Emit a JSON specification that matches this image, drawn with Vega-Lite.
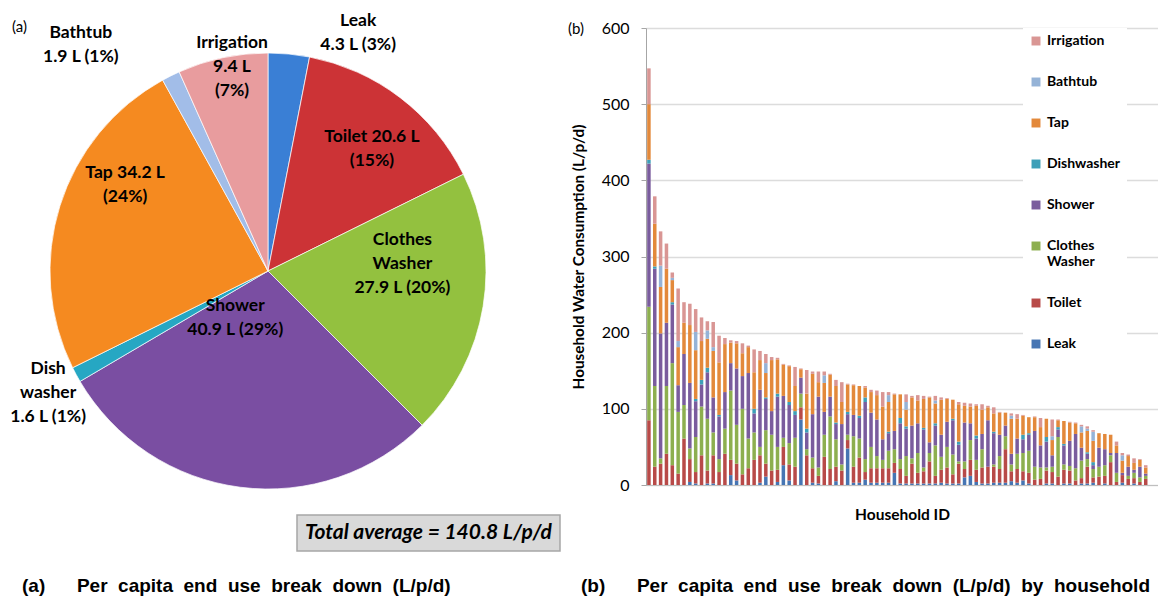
{
  "$schema": "https://vega.github.io/schema/vega-lite/v6.json",
  "padding": {"left": 0, "top": 12, "right": 0, "bottom": 0},
  "spacing": 7,
  "config": {
    "font": "Lato",
    "view": {"stroke": null},
    "title": {"color": "#000000"}
  },
  "resolve": {"scale": {"color": "independent"}, "legend": {"color": "independent"}},
  "datasets": {
    "enduse": [
      {"category": "Leak", "value": 4.3, "label": "Leak\n4.3 L (3%)"},
      {"category": "Toilet", "value": 20.6, "label": "Toilet 20.6 L\n(15%)"},
      {"category": "Clothes Washer", "value": 27.9, "label": "Clothes\nWasher\n27.9 L (20%)"},
      {"category": "Shower", "value": 40.9, "label": "Shower\n40.9 L (29%)"},
      {"category": "Dishwasher", "value": 1.6, "label": "Dish\nwasher\n1.6 L (1%)"},
      {"category": "Tap", "value": 34.2, "label": "Tap 34.2 L\n(24%)"},
      {"category": "Bathtub", "value": 1.9, "label": "Bathtub\n1.9 L (1%)"},
      {"category": "Irrigation", "value": 9.4, "label": "Irrigation\n9.4 L\n(7%)"}
    ],
    "households": [
      {"id": 1, "Leak": 0, "Toilet": 85, "Clothes Washer": 149, "Shower": 188, "Dishwasher": 5, "Tap": 73, "Bathtub": 0, "Irrigation": 47},
      {"id": 2, "Leak": 0, "Toilet": 24, "Clothes Washer": 106, "Shower": 154, "Dishwasher": 3, "Tap": 56, "Bathtub": 0, "Irrigation": 36},
      {"id": 3, "Leak": 0, "Toilet": 28, "Clothes Washer": 7, "Shower": 164, "Dishwasher": 0, "Tap": 61, "Bathtub": 28, "Irrigation": 45},
      {"id": 4, "Leak": 0, "Toilet": 41, "Clothes Washer": 89, "Shower": 83, "Dishwasher": 0, "Tap": 71, "Bathtub": 0, "Irrigation": 33},
      {"id": 5, "Leak": 0, "Toilet": 26, "Clothes Washer": 134, "Shower": 77, "Dishwasher": 3, "Tap": 29, "Bathtub": 3, "Irrigation": 7},
      {"id": 6, "Leak": 0, "Toilet": 15, "Clothes Washer": 81, "Shower": 35, "Dishwasher": 0, "Tap": 50, "Bathtub": 8, "Irrigation": 69},
      {"id": 7, "Leak": 0, "Toilet": 61, "Clothes Washer": 44, "Shower": 67, "Dishwasher": 0, "Tap": 41, "Bathtub": 0, "Irrigation": 27},
      {"id": 8, "Leak": 4, "Toilet": 30, "Clothes Washer": 14, "Shower": 86, "Dishwasher": 0, "Tap": 76, "Bathtub": 0, "Irrigation": 28},
      {"id": 9, "Leak": 2, "Toilet": 15, "Clothes Washer": 46, "Shower": 47, "Dishwasher": 3, "Tap": 64, "Bathtub": 24, "Irrigation": 30},
      {"id": 10, "Leak": 0, "Toilet": 39, "Clothes Washer": 64, "Shower": 29, "Dishwasher": 6, "Tap": 51, "Bathtub": 0, "Irrigation": 31},
      {"id": 11, "Leak": 2, "Toilet": 17, "Clothes Washer": 68, "Shower": 61, "Dishwasher": 6, "Tap": 38, "Bathtub": 11, "Irrigation": 12},
      {"id": 12, "Leak": 2, "Toilet": 37, "Clothes Washer": 30, "Shower": 46, "Dishwasher": 0, "Tap": 61, "Bathtub": 5, "Irrigation": 33},
      {"id": 13, "Leak": 0, "Toilet": 17, "Clothes Washer": 17, "Shower": 56, "Dishwasher": 2, "Tap": 69, "Bathtub": 0, "Irrigation": 35},
      {"id": 14, "Leak": 0, "Toilet": 41, "Clothes Washer": 33, "Shower": 48, "Dishwasher": 0, "Tap": 63, "Bathtub": 0, "Irrigation": 8},
      {"id": 15, "Leak": 13, "Toilet": 20, "Clothes Washer": 91, "Shower": 36, "Dishwasher": 0, "Tap": 27, "Bathtub": 0, "Irrigation": 3},
      {"id": 16, "Leak": 6, "Toilet": 22, "Clothes Washer": 51, "Shower": 74, "Dishwasher": 0, "Tap": 33, "Bathtub": 0, "Irrigation": 3},
      {"id": 17, "Leak": 0, "Toilet": 14, "Clothes Washer": 86, "Shower": 43, "Dishwasher": 0, "Tap": 30, "Bathtub": 0, "Irrigation": 13},
      {"id": 18, "Leak": 0, "Toilet": 22, "Clothes Washer": 39, "Shower": 86, "Dishwasher": 0, "Tap": 34, "Bathtub": 0, "Irrigation": 2},
      {"id": 19, "Leak": 0, "Toilet": 33, "Clothes Washer": 36, "Shower": 25, "Dishwasher": 6, "Tap": 48, "Bathtub": 0, "Irrigation": 30},
      {"id": 20, "Leak": 3, "Toilet": 36, "Clothes Washer": 11, "Shower": 75, "Dishwasher": 0, "Tap": 39, "Bathtub": 0, "Irrigation": 12},
      {"id": 21, "Leak": 11, "Toilet": 17, "Clothes Washer": 44, "Shower": 41, "Dishwasher": 2, "Tap": 32, "Bathtub": 13, "Irrigation": 12},
      {"id": 22, "Leak": 0, "Toilet": 19, "Clothes Washer": 47, "Shower": 31, "Dishwasher": 0, "Tap": 67, "Bathtub": 0, "Irrigation": 4},
      {"id": 23, "Leak": 4, "Toilet": 16, "Clothes Washer": 30, "Shower": 66, "Dishwasher": 4, "Tap": 45, "Bathtub": 0, "Irrigation": 2},
      {"id": 24, "Leak": 26, "Toilet": 24, "Clothes Washer": 12, "Shower": 55, "Dishwasher": 0, "Tap": 41, "Bathtub": 0, "Irrigation": 1},
      {"id": 25, "Leak": 6, "Toilet": 21, "Clothes Washer": 28, "Shower": 50, "Dishwasher": 4, "Tap": 47, "Bathtub": 0, "Irrigation": 1},
      {"id": 26, "Leak": 0, "Toilet": 24, "Clothes Washer": 38, "Shower": 30, "Dishwasher": 5, "Tap": 33, "Bathtub": 0, "Irrigation": 25},
      {"id": 27, "Leak": 86, "Toilet": 16, "Clothes Washer": 18, "Shower": 21, "Dishwasher": 0, "Tap": 11, "Bathtub": 0, "Irrigation": 1},
      {"id": 28, "Leak": 0, "Toilet": 39, "Clothes Washer": 8, "Shower": 22, "Dishwasher": 5, "Tap": 46, "Bathtub": 0, "Irrigation": 31},
      {"id": 29, "Leak": 3, "Toilet": 19, "Clothes Washer": 14, "Shower": 57, "Dishwasher": 0, "Tap": 53, "Bathtub": 0, "Irrigation": 3},
      {"id": 30, "Leak": 2, "Toilet": 10, "Clothes Washer": 11, "Shower": 93, "Dishwasher": 0, "Tap": 19, "Bathtub": 0, "Irrigation": 14},
      {"id": 31, "Leak": 0, "Toilet": 37, "Clothes Washer": 29, "Shower": 30, "Dishwasher": 0, "Tap": 38, "Bathtub": 10, "Irrigation": 5},
      {"id": 32, "Leak": 0, "Toilet": 21, "Clothes Washer": 69, "Shower": 26, "Dishwasher": 0, "Tap": 29, "Bathtub": 0, "Irrigation": 1},
      {"id": 33, "Leak": 5, "Toilet": 19, "Clothes Washer": 36, "Shower": 20, "Dishwasher": 2, "Tap": 48, "Bathtub": 0, "Irrigation": 8},
      {"id": 34, "Leak": 0, "Toilet": 19, "Clothes Washer": 8, "Shower": 53, "Dishwasher": 0, "Tap": 29, "Bathtub": 0, "Irrigation": 26},
      {"id": 35, "Leak": 48, "Toilet": 11, "Clothes Washer": 7, "Shower": 27, "Dishwasher": 3, "Tap": 36, "Bathtub": 0, "Irrigation": 1},
      {"id": 36, "Leak": 3, "Toilet": 21, "Clothes Washer": 40, "Shower": 28, "Dishwasher": 0, "Tap": 39, "Bathtub": 0, "Irrigation": 1},
      {"id": 37, "Leak": 3, "Toilet": 33, "Clothes Washer": 25, "Shower": 27, "Dishwasher": 3, "Tap": 39, "Bathtub": 0, "Irrigation": 0},
      {"id": 38, "Leak": 7, "Toilet": 10, "Clothes Washer": 17, "Shower": 75, "Dishwasher": 6, "Tap": 13, "Bathtub": 0, "Irrigation": 2},
      {"id": 39, "Leak": 3, "Toilet": 19, "Clothes Washer": 28, "Shower": 45, "Dishwasher": 0, "Tap": 27, "Bathtub": 0, "Irrigation": 3},
      {"id": 40, "Leak": 3, "Toilet": 19, "Clothes Washer": 16, "Shower": 48, "Dishwasher": 0, "Tap": 32, "Bathtub": 0, "Irrigation": 6},
      {"id": 41, "Leak": 3, "Toilet": 19, "Clothes Washer": 11, "Shower": 27, "Dishwasher": 0, "Tap": 43, "Bathtub": 0, "Irrigation": 19},
      {"id": 42, "Leak": 3, "Toilet": 19, "Clothes Washer": 23, "Shower": 23, "Dishwasher": 2, "Tap": 39, "Bathtub": 9, "Irrigation": 4},
      {"id": 43, "Leak": 16, "Toilet": 13, "Clothes Washer": 18, "Shower": 24, "Dishwasher": 0, "Tap": 48, "Bathtub": 0, "Irrigation": 1},
      {"id": 44, "Leak": 2, "Toilet": 19, "Clothes Washer": 13, "Shower": 47, "Dishwasher": 7, "Tap": 31, "Bathtub": 0, "Irrigation": 0},
      {"id": 45, "Leak": 2, "Toilet": 10, "Clothes Washer": 26, "Shower": 36, "Dishwasher": 3, "Tap": 22, "Bathtub": 10, "Irrigation": 10},
      {"id": 46, "Leak": 2, "Toilet": 26, "Clothes Washer": 7, "Shower": 43, "Dishwasher": 0, "Tap": 37, "Bathtub": 0, "Irrigation": 2},
      {"id": 47, "Leak": 2, "Toilet": 14, "Clothes Washer": 26, "Shower": 39, "Dishwasher": 0, "Tap": 30, "Bathtub": 0, "Irrigation": 7},
      {"id": 48, "Leak": 2, "Toilet": 16, "Clothes Washer": 5, "Shower": 50, "Dishwasher": 2, "Tap": 38, "Bathtub": 0, "Irrigation": 4},
      {"id": 49, "Leak": 2, "Toilet": 29, "Clothes Washer": 11, "Shower": 14, "Dishwasher": 0, "Tap": 59, "Bathtub": 0, "Irrigation": 1},
      {"id": 50, "Leak": 2, "Toilet": 10, "Clothes Washer": 40, "Shower": 26, "Dishwasher": 3, "Tap": 26, "Bathtub": 4, "Irrigation": 6},
      {"id": 51, "Leak": 3, "Toilet": 17, "Clothes Washer": 17, "Shower": 29, "Dishwasher": 0, "Tap": 46, "Bathtub": 0, "Irrigation": 3},
      {"id": 52, "Leak": 2, "Toilet": 21, "Clothes Washer": 27, "Shower": 33, "Dishwasher": 0, "Tap": 30, "Bathtub": 0, "Irrigation": 1},
      {"id": 53, "Leak": 2, "Toilet": 12, "Clothes Washer": 26, "Shower": 45, "Dishwasher": 2, "Tap": 25, "Bathtub": 0, "Irrigation": 0},
      {"id": 54, "Leak": 2, "Toilet": 26, "Clothes Washer": 3, "Shower": 22, "Dishwasher": 4, "Tap": 49, "Bathtub": 0, "Irrigation": 3},
      {"id": 55, "Leak": 10, "Toilet": 11, "Clothes Washer": 10, "Shower": 51, "Dishwasher": 0, "Tap": 22, "Bathtub": 0, "Irrigation": 4},
      {"id": 56, "Leak": 12, "Toilet": 21, "Clothes Washer": 26, "Shower": 22, "Dishwasher": 0, "Tap": 22, "Bathtub": 0, "Irrigation": 4},
      {"id": 57, "Leak": 4, "Toilet": 16, "Clothes Washer": 13, "Shower": 28, "Dishwasher": 4, "Tap": 39, "Bathtub": 0, "Irrigation": 2},
      {"id": 58, "Leak": 2, "Toilet": 21, "Clothes Washer": 24, "Shower": 20, "Dishwasher": 0, "Tap": 32, "Bathtub": 0, "Irrigation": 7},
      {"id": 59, "Leak": 2, "Toilet": 22, "Clothes Washer": 0, "Shower": 61, "Dishwasher": 0, "Tap": 17, "Bathtub": 0, "Irrigation": 2},
      {"id": 60, "Leak": 3, "Toilet": 21, "Clothes Washer": 3, "Shower": 41, "Dishwasher": 2, "Tap": 24, "Bathtub": 0, "Irrigation": 8},
      {"id": 61, "Leak": 3, "Toilet": 18, "Clothes Washer": 17, "Shower": 28, "Dishwasher": 0, "Tap": 29, "Bathtub": 0, "Irrigation": 1},
      {"id": 62, "Leak": 3, "Toilet": 44, "Clothes Washer": 17, "Shower": 14, "Dishwasher": 0, "Tap": 17, "Bathtub": 0, "Irrigation": 0},
      {"id": 63, "Leak": 5, "Toilet": 13, "Clothes Washer": 9, "Shower": 14, "Dishwasher": 0, "Tap": 46, "Bathtub": 4, "Irrigation": 3},
      {"id": 64, "Leak": 3, "Toilet": 18, "Clothes Washer": 20, "Shower": 20, "Dishwasher": 0, "Tap": 26, "Bathtub": 0, "Irrigation": 6},
      {"id": 65, "Leak": 6, "Toilet": 12, "Clothes Washer": 24, "Shower": 18, "Dishwasher": 6, "Tap": 25, "Bathtub": 0, "Irrigation": 1},
      {"id": 66, "Leak": 2, "Toilet": 14, "Clothes Washer": 29, "Shower": 21, "Dishwasher": 2, "Tap": 21, "Bathtub": 0, "Irrigation": 0},
      {"id": 67, "Leak": 0, "Toilet": 7, "Clothes Washer": 17, "Shower": 47, "Dishwasher": 0, "Tap": 18, "Bathtub": 0, "Irrigation": 1},
      {"id": 68, "Leak": 0, "Toilet": 8, "Clothes Washer": 15, "Shower": 29, "Dishwasher": 0, "Tap": 24, "Bathtub": 0, "Irrigation": 12},
      {"id": 69, "Leak": 2, "Toilet": 17, "Clothes Washer": 4, "Shower": 34, "Dishwasher": 6, "Tap": 24, "Bathtub": 0, "Irrigation": 0},
      {"id": 70, "Leak": 2, "Toilet": 15, "Clothes Washer": 7, "Shower": 15, "Dishwasher": 0, "Tap": 20, "Bathtub": 5, "Irrigation": 22},
      {"id": 71, "Leak": 0, "Toilet": 11, "Clothes Washer": 52, "Shower": 10, "Dishwasher": 3, "Tap": 9, "Bathtub": 0, "Irrigation": 1},
      {"id": 72, "Leak": 2, "Toilet": 18, "Clothes Washer": 7, "Shower": 25, "Dishwasher": 2, "Tap": 30, "Bathtub": 0, "Irrigation": 0},
      {"id": 73, "Leak": 2, "Toilet": 17, "Clothes Washer": 6, "Shower": 33, "Dishwasher": 0, "Tap": 24, "Bathtub": 0, "Irrigation": 1},
      {"id": 74, "Leak": 0, "Toilet": 6, "Clothes Washer": 16, "Shower": 45, "Dishwasher": 0, "Tap": 14, "Bathtub": 0, "Irrigation": 1},
      {"id": 75, "Leak": 2, "Toilet": 7, "Clothes Washer": 23, "Shower": 17, "Dishwasher": 0, "Tap": 20, "Bathtub": 8, "Irrigation": 2},
      {"id": 76, "Leak": 2, "Toilet": 22, "Clothes Washer": 10, "Shower": 7, "Dishwasher": 2, "Tap": 28, "Bathtub": 3, "Irrigation": 3},
      {"id": 77, "Leak": 3, "Toilet": 7, "Clothes Washer": 11, "Shower": 5, "Dishwasher": 4, "Tap": 28, "Bathtub": 12, "Irrigation": 2},
      {"id": 78, "Leak": 0, "Toilet": 11, "Clothes Washer": 13, "Shower": 25, "Dishwasher": 0, "Tap": 19, "Bathtub": 0, "Irrigation": 0},
      {"id": 79, "Leak": 2, "Toilet": 10, "Clothes Washer": 14, "Shower": 21, "Dishwasher": 0, "Tap": 20, "Bathtub": 0, "Irrigation": 0},
      {"id": 80, "Leak": 0, "Toilet": 30, "Clothes Washer": 9, "Shower": 3, "Dishwasher": 0, "Tap": 24, "Bathtub": 0, "Irrigation": 0},
      {"id": 81, "Leak": 0, "Toilet": 4, "Clothes Washer": 12, "Shower": 26, "Dishwasher": 0, "Tap": 10, "Bathtub": 0, "Irrigation": 5},
      {"id": 82, "Leak": 3, "Toilet": 10, "Clothes Washer": 0, "Shower": 3, "Dishwasher": 0, "Tap": 16, "Bathtub": 7, "Irrigation": 3},
      {"id": 83, "Leak": 0, "Toilet": 8, "Clothes Washer": 4, "Shower": 12, "Dishwasher": 0, "Tap": 14, "Bathtub": 0, "Irrigation": 2},
      {"id": 84, "Leak": 2, "Toilet": 7, "Clothes Washer": 7, "Shower": 4, "Dishwasher": 0, "Tap": 9, "Bathtub": 0, "Irrigation": 6},
      {"id": 85, "Leak": 0, "Toilet": 4, "Clothes Washer": 6, "Shower": 14, "Dishwasher": 0, "Tap": 9, "Bathtub": 0, "Irrigation": 1},
      {"id": 86, "Leak": 0, "Toilet": 8, "Clothes Washer": 4, "Shower": 3, "Dishwasher": 0, "Tap": 8, "Bathtub": 0, "Irrigation": 3}
    ]
  },
  "hconcat": [
    {
      "vconcat": [
        {
          "width": 536,
          "height": 486,
          "data": {"name": "enduse"},
          "title": {"text": "(a)", "anchor": "start", "frame": "group", "dx": 12, "offset": -23, "font": "Lato", "fontSize": 15, "fontWeight": "normal"},
          "transform": [
            {"window": [{"op": "row_number", "as": "ord"}]},
            {"stack": "value", "groupby": [], "sort": [{"field": "ord", "order": "ascending"}], "as": ["v0", "v1"]}
          ],
          "layer": [
            {
              "mark": {"type": "arc", "outerRadius": 218, "stroke": "#ffffff", "strokeWidth": 1, "strokeOpacity": 0.7},
              "encoding": {
                "theta": {"field": "v0", "type": "quantitative", "stack": null},
                "theta2": {"field": "v1"},
                "color": {
                  "field": "category", "type": "nominal", "legend": null,
                  "scale": {
                    "domain": ["Leak", "Toilet", "Clothes Washer", "Shower", "Dishwasher", "Tap", "Bathtub", "Irrigation"],
                    "range": ["#3a7fd5", "#cc3336", "#93c13f", "#7a4ea2", "#26a7c3", "#f58a20", "#a2bde8", "#e89c9e"]
                  }
                }
              }
            },
            {
              "transform": [{"filter": "datum.category === 'Leak'"}],
              "mark": {"type": "text", "radius": 242, "dx": 44, "dy": -12, "font": "Lato", "fontSize": 17.5, "fontWeight": "bold", "lineBreak": "\n", "lineHeight": 24, "color": "#000000"},
              "encoding": {"theta": {"field": "v1", "type": "quantitative", "stack": null}, "text": {"field": "label", "type": "nominal"}}
            },
            {
              "transform": [{"filter": "datum.category === 'Toilet'"}],
              "mark": {"type": "text", "radius": 116, "dx": 0, "dy": -83, "font": "Lato", "fontSize": 17.5, "fontWeight": "bold", "lineBreak": "\n", "lineHeight": 24, "color": "#000000"},
              "encoding": {"theta": {"field": "v1", "type": "quantitative", "stack": null}, "text": {"field": "label", "type": "nominal"}}
            },
            {
              "transform": [{"filter": "datum.category === 'Clothes Washer'"}],
              "mark": {"type": "text", "radius": 150, "dx": 0, "dy": 36, "font": "Lato", "fontSize": 17.5, "fontWeight": "bold", "lineBreak": "\n", "lineHeight": 24, "color": "#000000"},
              "encoding": {"theta": {"field": "v0", "type": "quantitative", "stack": null}, "text": {"field": "label", "type": "nominal"}}
            },
            {
              "transform": [{"filter": "datum.category === 'Shower'"}],
              "mark": {"type": "text", "radius": 38, "dx": 0, "dy": 16, "font": "Lato", "fontSize": 17.5, "fontWeight": "bold", "lineBreak": "\n", "lineHeight": 24, "color": "#000000"},
              "encoding": {"theta": {"field": "v1", "type": "quantitative", "stack": null}, "text": {"field": "label", "type": "nominal"}}
            },
            {
              "transform": [{"filter": "datum.category === 'Dishwasher'"}],
              "mark": {"type": "text", "radius": 255, "dx": 0, "dy": -31, "font": "Lato", "fontSize": 17.5, "fontWeight": "bold", "lineBreak": "\n", "lineHeight": 24, "color": "#000000"},
              "encoding": {"theta": {"field": "v0", "type": "quantitative", "stack": null}, "text": {"field": "label", "type": "nominal"}}
            },
            {
              "transform": [{"filter": "datum.category === 'Tap'"}],
              "mark": {"type": "text", "radius": 99, "dx": -95, "dy": -11, "font": "Lato", "fontSize": 17.5, "fontWeight": "bold", "lineBreak": "\n", "lineHeight": 24, "color": "#000000"},
              "encoding": {"theta": {"field": "v1", "type": "quantitative", "stack": null}, "text": {"field": "label", "type": "nominal"}}
            },
            {
              "transform": [{"filter": "datum.category === 'Bathtub'"}],
              "mark": {"type": "text", "radius": 257, "dx": -63, "dy": -13, "font": "Lato", "fontSize": 17.5, "fontWeight": "bold", "lineBreak": "\n", "lineHeight": 24, "color": "#000000"},
              "encoding": {"theta": {"field": "v0", "type": "quantitative", "stack": null}, "text": {"field": "label", "type": "nominal"}}
            },
            {
              "transform": [{"filter": "datum.category === 'Irrigation'"}],
              "mark": {"type": "text", "radius": 203, "dx": -36, "dy": -25, "font": "Lato", "fontSize": 17.5, "fontWeight": "bold", "lineBreak": "\n", "lineHeight": 24, "color": "#000000"},
              "encoding": {"theta": {"field": "v1", "type": "quantitative", "stack": null}, "text": {"field": "label", "type": "nominal"}}
            }
          ]
        },
        {
          "hconcat": [
            {
              "width": 297,
              "height": 36,
              "data": {"values": [{"blank": ""}]},
              "mark": {"type": "text"},
              "encoding": {"text": {"field": "blank", "type": "nominal"}}
            },
            {
              "width": 263,
              "height": 36,
              "view": {"fill": "#d9d9d9", "stroke": "#a6a6a6", "strokeWidth": 1.5},
              "data": {"values": [{"note": "Total average = 140.8 L/p/d"}]},
              "mark": {"type": "text", "font": "Lato", "fontSize": 21, "fontWeight": "bold", "fontStyle": "italic", "color": "#000000"},
              "encoding": {"text": {"field": "note", "type": "nominal"}}
            }
          ],
          "spacing": 0,
          "bounds": "flush"
        }
      ],
      "spacing": 0,
      "title": {"text": "(a)\u00a0\u00a0\u00a0\u00a0\u00a0\u00a0Per\u00a0\u00a0capita\u00a0\u00a0end\u00a0\u00a0use\u00a0\u00a0break\u00a0\u00a0down\u00a0\u00a0(L/p/d)", "orient": "bottom", "anchor": "start", "frame": "group", "dx": 22, "offset": 25, "font": "Liberation Sans", "fontSize": 19, "fontWeight": "bold"}
    },
    {
      "vconcat": [
        {
          "width": 512,
          "height": 457,
          "data": {"name": "households"},
          "title": {"text": "(b)", "anchor": "start", "frame": "group", "dx": -78, "offset": -17, "font": "Lato", "fontSize": 15, "fontWeight": "normal"},
          "transform": [
            {"fold": ["Leak", "Toilet", "Clothes Washer", "Shower", "Dishwasher", "Tap", "Bathtub", "Irrigation"], "as": ["use", "litres"]},
            {"window": [{"op": "row_number", "as": "ord"}], "groupby": ["id"]}
          ],
          "mark": {"type": "bar"},
          "encoding": {
            "x": {
              "field": "id", "type": "ordinal",
              "scale": {"paddingInner": 0.4, "paddingOuter": 1.5, "align": 0.1},
              "axis": {"labels": false, "ticks": false, "domain": true, "domainColor": "#bfbfbf", "title": "Household ID", "titleFont": "Lato", "titleFontSize": 15.5, "titleFontWeight": "bold", "titleColor": "#000000", "titlePadding": 22}
            },
            "y": {
              "field": "litres", "type": "quantitative", "stack": "zero",
              "scale": {"domain": [0, 600], "nice": false},
              "axis": {
                "values": [0, 100, 200, 300, 400, 500, 600],
                "title": "Household Water Consumption (L/p/d)",
                "titleFont": "Lato", "titleFontSize": 15.3, "titleFontWeight": "bold", "titleColor": "#000000", "titlePadding": 15,
                "labelFont": "Lato", "labelFontSize": 16, "labelColor": "#000000", "labelPadding": 12,
                "grid": true, "gridColor": "#dcdcdc", "gridWidth": 1.5,
                "domainColor": "#a6a6a6", "tickColor": "#a6a6a6", "tickSize": 5
              }
            },
            "color": {
              "field": "use", "type": "nominal",
              "scale": {
                "domain": ["Irrigation", "Bathtub", "Tap", "Dishwasher", "Shower", "Clothes Washer", "Toilet", "Leak"],
                "range": ["#d99694", "#95b3d7", "#e3893b", "#3d9fb8", "#7a5c9d", "#8daf4f", "#b84a48", "#4675b3"]
              },
              "legend": {
                "orient": "none", "legendX": 377, "legendY": 0,
                "title": null, "fillColor": "#ffffff", "padding": 6,
                "symbolType": "square", "symbolSize": 80, "symbolStrokeWidth": 0,
                "labelFont": "Lato", "labelFontSize": 14, "labelFontWeight": "bold", "labelColor": "#000000", "labelOffset": 4, "labelLimit": 200,
                "rowPadding": 27,
                "labelExpr": "datum.label === 'Clothes Washer' ? ['Clothes', 'Washer'] : datum.label"
              }
            },
            "order": {"field": "ord", "type": "quantitative"}
          }
        }
      ],
      "title": {"text": "(b)\u00a0\u00a0\u00a0\u00a0\u00a0\u00a0Per\u00a0\u00a0capita\u00a0\u00a0end\u00a0\u00a0use\u00a0\u00a0break\u00a0\u00a0down\u00a0\u00a0(L/p/d)\u00a0\u00a0by\u00a0\u00a0household", "orient": "bottom", "anchor": "start", "frame": "group", "dx": -65, "offset": 54, "font": "Liberation Sans", "fontSize": 19, "fontWeight": "bold"}
    }
  ]
}
